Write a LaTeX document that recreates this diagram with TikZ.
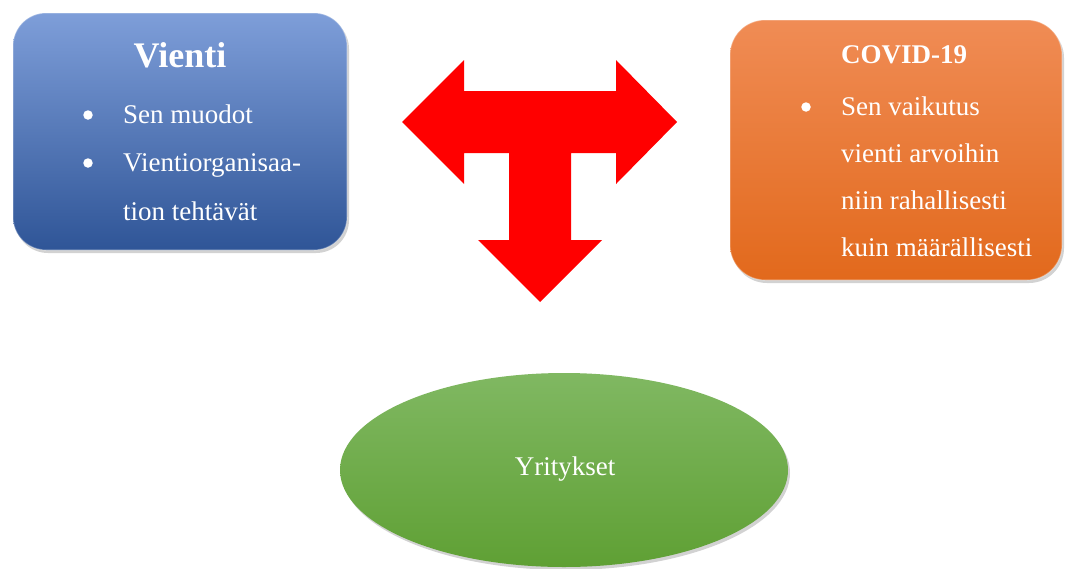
\documentclass[tikz,border=0pt]{standalone}
\usepackage{fontspec}
\setmainfont{Liberation Serif}
\usetikzlibrary{shapes.geometric,shadows}
\definecolor{blueTop}{HTML}{7E9ED9}
\definecolor{blueMid}{HTML}{4A73C4}
\definecolor{blueBot}{HTML}{2F5597}
\definecolor{orTop}{HTML}{F08C55}
\definecolor{orMid}{HTML}{F17E2F}
\definecolor{orBot}{HTML}{E2691C}
\definecolor{grTop}{HTML}{80B862}
\definecolor{grBot}{HTML}{5FA034}
\definecolor{arrowred}{HTML}{FF0000}
\tikzset{
  card/.style={rectangle, draw=white, draw opacity=0.3, line width=1.2pt, inner sep=0pt,
    drop shadow={opacity=0.35, shadow xshift=2pt, shadow yshift=-3pt}},
  txt/.style={text=white, font=\fontsize{27}{32}\selectfont, inner sep=0pt, anchor=base west},
  btxt/.style={text=white, font=\fontsize{27}{32}\selectfont\bfseries, inner sep=0pt, anchor=base west},
  bul/.style={circle, fill=white, draw=none, minimum size=9.5pt, inner sep=0pt},
}
\begin{document}
\begin{tikzpicture}[x=1pt,y=-1pt]
\useasboundingbox (0,0) rectangle (1067,568);
\fill[white] (0,0) rectangle (1067,568);

% left box
\node[card, rounded corners=33pt, minimum width=334pt, minimum height=237pt,
  top color=blueTop, middle color=blueMid, bottom color=blueBot] (vienti) at (180,131.5) {};
\node[text=white, font=\fontsize{36}{40}\selectfont\bfseries, inner sep=0pt, anchor=base] (vtitle) at (180,67) {Vienti};
\node[bul] (vb1) at (88,115) {};
\node[txt] (vt1) at (123,123) {Sen muodot};
\node[bul] (vb2) at (88,163) {};
\node[txt] (vt2) at (123,171) {Vientiorganisaa-};
\node[txt] (vt3) at (123,220) {tion tehtävät};

% right box
\node[card, rounded corners=35pt, minimum width=332pt, minimum height=260pt,
  top color=orTop, middle color=orMid, bottom color=orBot] (covid) at (896,150) {};
\node[btxt] (ctitle) at (841,63) {COVID-19};
\node[bul] (cb1) at (806,107) {};
\node[txt] (ct1) at (841,115) {Sen vaikutus};
\node[txt] (ct2) at (841,162) {vienti arvoihin};
\node[txt] (ct3) at (841,209) {niin rahallisesti};
\node[txt] (ct4) at (841,256) {kuin määrällisesti};

% ellipse
\node[ellipse, draw=none, inner sep=0pt, minimum width=448pt, minimum height=194pt,
  top color=grTop, bottom color=grBot,
  drop shadow={opacity=0.35, shadow xshift=2pt, shadow yshift=-3pt}] (yrit) at (564,470) {};
\node[text=white, font=\fontsize{27}{32}\selectfont, inner sep=0pt, anchor=base] (ytext) at (565,475) {Yritykset};

% T arrow
\fill[arrowred] (402,122) -- (464,60) -- (464,91) -- (616,91) -- (616,60) -- (677,122)
  -- (616,184) -- (616,153) -- (571,153) -- (571,240) -- (602,240) -- (540,302)
  -- (478,240) -- (509,240) -- (509,153) -- (464,153) -- (464,184) -- cycle;
\end{tikzpicture}
\end{document}
